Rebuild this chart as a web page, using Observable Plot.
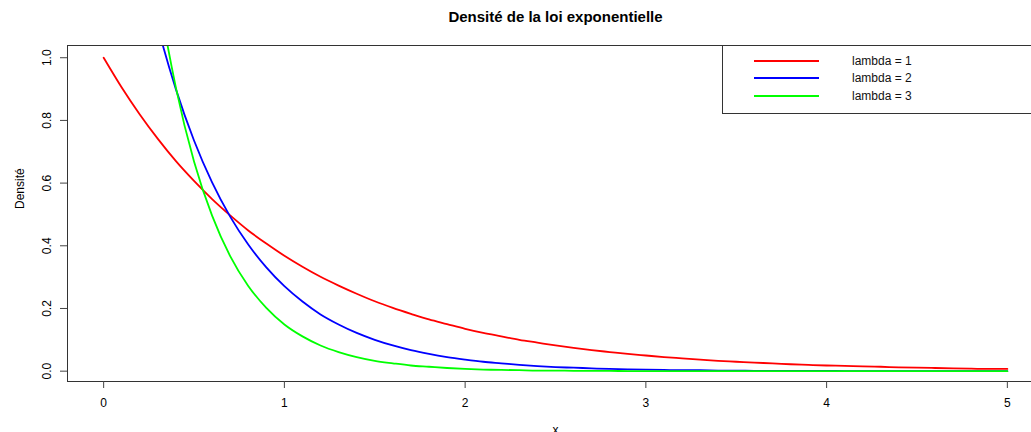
<!DOCTYPE html>
<html>
<head>
<meta charset="utf-8">
<script src="https://cdn.jsdelivr.net/npm/d3@7"></script>
<script src="https://cdn.jsdelivr.net/npm/@observablehq/plot@0.6"></script>
<style>
  html, body { margin: 0; padding: 0; background: #fff; overflow: hidden; }
  #wrap { position: relative; width: 1031px; height: 432px; overflow: hidden; font-family: "Liberation Sans", Arial, sans-serif; }
  #legend { position: absolute; left: 722px; top: 45px; width: 400px; height: 69px; box-sizing: border-box;
            border: 1px solid #333; background: #fff; padding-top: 6px; }
  .row { display: flex; align-items: center; height: 17.5px; font-size: 12px; color: #111; }
  .sw { display: inline-block; width: 65px; height: 2px; margin-left: 31px; margin-right: 33px; }
</style>
</head>
<body>
<div id="wrap"></div>
<script>
const title = "Densité de la loi exponentielle";
const xLabel = "x";
const yLabel = "Densité";
const seriesNames = ["lambda = 1", "lambda = 2", "lambda = 3"];
const seriesColors = ["#ff0000", "#0000ff", "#00ff00"];
const xTicks = [0, 1, 2, 3, 4, 5];
const yTicks = [0, 0.2, 0.4, 0.6, 0.8, 1.0];

const xs = [0,0.1,0.2,0.3,0.4,0.5,0.6,0.7,0.8,0.9,1.0,1.1,1.2,1.3,1.4,1.5,1.6,1.7,1.8,1.9,2.0,
  2.1,2.2,2.3,2.4,2.5,2.6,2.7,2.8,2.9,3.0,3.1,3.2,3.3,3.4,3.5,3.6,3.7,3.8,3.9,4.0,
  4.1,4.2,4.3,4.4,4.5,4.6,4.7,4.8,4.9,5.0];
const lambda1 = [1.000,0.905,0.819,0.741,0.670,0.607,0.549,0.497,0.449,0.407,0.368,
  0.333,0.301,0.273,0.247,0.223,0.202,0.183,0.165,0.150,0.135,
  0.122,0.111,0.100,0.091,0.082,0.074,0.067,0.061,0.055,0.050,
  0.045,0.041,0.037,0.033,0.030,0.027,0.025,0.022,0.020,0.018,
  0.017,0.015,0.014,0.012,0.011,0.010,0.009,0.008,0.007,0.007];
const lambda2 = [2.000,1.637,1.341,1.098,0.899,0.736,0.602,0.493,0.404,0.331,0.271,
  0.222,0.181,0.149,0.122,0.100,0.082,0.067,0.055,0.045,0.037,
  0.030,0.025,0.020,0.016,0.013,0.011,0.009,0.007,0.006,0.005,
  0.004,0.003,0.003,0.002,0.002,0.001,0.001,0.001,0.001,0.001,
  0.000,0.000,0.000,0.000,0.000,0.000,0.000,0.000,0.000,0.000];
const lambda3 = [3.000,2.222,1.646,1.220,0.904,0.669,0.496,0.367,0.272,0.202,0.149,
  0.111,0.082,0.061,0.045,0.033,0.025,0.018,0.014,0.010,0.007,
  0.005,0.004,0.003,0.002,0.002,0.001,0.001,0.001,0.000,0.000,
  0.000,0.000,0.000,0.000,0.000,0.000,0.000,0.000,0.000,0.000,
  0.000,0.000,0.000,0.000,0.000,0.000,0.000,0.000,0.000,0.000];

const seriesValues = [lambda1, lambda2, lambda3];
const rows = seriesNames.flatMap((name, s) => xs.map((x, i) => ({x, y: seriesValues[s][i], series: name})));

const chart = Plot.plot({
  width: 1031,
  height: 432,
  marginLeft: 67,
  marginRight: -12,
  marginTop: 45,
  marginBottom: 51,
  style: {fontFamily: '"Liberation Sans", Arial, sans-serif', fontSize: "12px", color: "#000", background: "#fff"},
  x: {domain: [-0.2, 5.2]},
  y: {domain: [-0.033, 1.039]},
  color: {domain: seriesNames, range: seriesColors},
  marks: [
    Plot.line(rows, {x: "x", y: "y", z: "series", stroke: "series", strokeWidth: 1.8, curve: "monotone-x", clip: true}),
    Plot.frame({stroke: "#333"}),
    Plot.axisX({ticks: xTicks, tickSize: 7, tickPadding: 10, tickFormat: d3.format("d"), fontSize: 12, stroke: "#444", label: null}),
    Plot.axisY({ticks: yTicks, tickSize: 7, tickPadding: 10, tickRotate: -90, tickFormat: d3.format(".1f"), fontSize: 12, stroke: "#444", label: null}),
    Plot.text([title], {frameAnchor: "top", lineAnchor: "bottom", dy: -24, fontWeight: "bold", fontSize: 15}),
    Plot.text([xLabel], {frameAnchor: "bottom", lineAnchor: "bottom", dy: 52, fontSize: 12}),
    Plot.text([yLabel], {frameAnchor: "left", lineAnchor: "bottom", rotate: -90, dx: -44, dy: -4.5, fontSize: 12})
  ]
});

const wrap = document.getElementById("wrap");
wrap.appendChild(chart);

const legend = document.createElement("div");
legend.id = "legend";
seriesNames.forEach((name, i) => {
  const row = document.createElement("div");
  row.className = "row";
  const sw = document.createElement("span");
  sw.className = "sw";
  sw.style.background = seriesColors[i];
  const lab = document.createElement("span");
  lab.textContent = name;
  row.appendChild(sw);
  row.appendChild(lab);
  legend.appendChild(row);
});
wrap.appendChild(legend);
</script>
</body>
</html>
